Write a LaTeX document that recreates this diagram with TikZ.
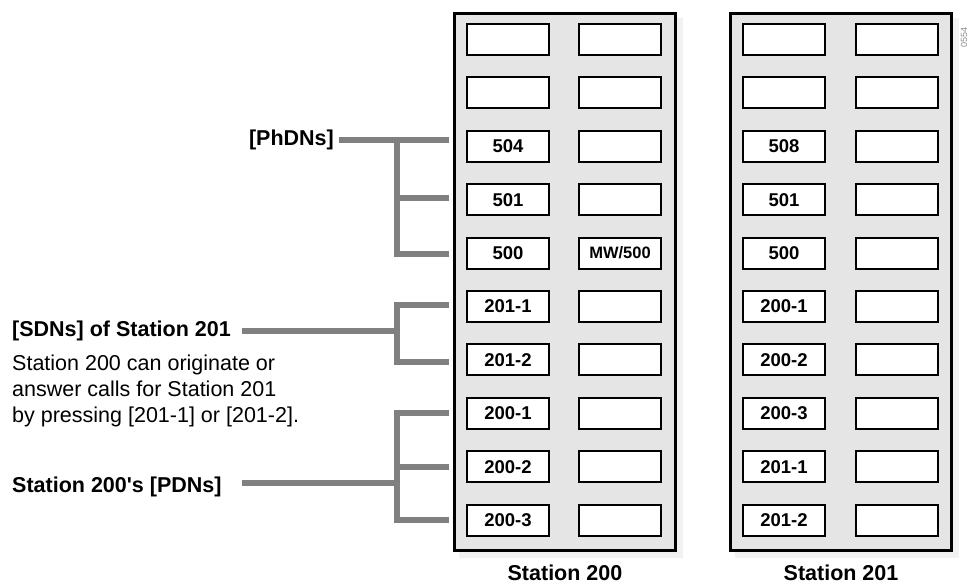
\documentclass[tikz,border=0pt]{standalone}
\usepackage{fontspec}
\setmainfont{Liberation Sans}
\newcommand\lblsize{\fontsize{21.5}{25.7}\selectfont}
\newcommand\keysize{\fontsize{18.5}{20}\selectfont}
\newcommand\mwsize{\fontsize{16.5}{18}\selectfont}
\tikzset{
  padkey/.style={draw,line width=2pt,fill=white,minimum width=82pt,minimum height=31pt,inner sep=0pt,font=\keysize\bfseries},
  stationframe/.style={draw,line width=3pt,fill=black!10,minimum width=221pt,minimum height=537pt,inner sep=0pt},
  frameshadow/.style={fill=black!5,minimum width=224pt,minimum height=540pt,inner sep=0pt},
  bracket/.style={line width=6pt,draw=black!50},
  lbl/.style={inner sep=0pt,font=\lblsize\bfseries},
}
\begin{document}
\begin{tikzpicture}[x=1pt,y=-1pt]
\useasboundingbox (0,0) rectangle (971,584);
% the two stations
\node[frameshadow] (sh200) at (571,288) {};
\node[stationframe] (st200) at (565,282) {};
\node[frameshadow] (sh201) at (847,288) {};
\node[stationframe] (st201) at (841,282) {};
\foreach \r/\a/\b/\c in {1/{}/{}/{},2/{}/{}/{},3/504/{}/508,4/501/{}/501,
    5/500/{\mwsize MW/500}/500,6/201-1/{}/200-1,7/201-2/{}/200-2,
    8/200-1/{}/200-3,9/200-2/{}/201-1,10/200-3/{}/201-2}{
  \node[padkey] (k200l\r) at (508,{39.5+(\r-1)*53.4}) {\a};
  \node[padkey] (k200r\r) at (620,{39.5+(\r-1)*53.4}) {\b};
  \node[padkey] (k201l\r) at (784,{39.5+(\r-1)*53.4}) {\c};
  \node[padkey] (k201r\r) at (896.5,{39.5+(\r-1)*53.4}) {};
}
\node[lbl,anchor=base] (lbl200) at (565,580) {Station 200};
\node[lbl,anchor=base] (lbl201) at (841,580) {Station 201};
\node[font=\fontsize{9}{9}\selectfont,text=black!45,rotate=90,inner sep=0pt] (fignum) at (964,37) {0554};
% labels on the left
\node[lbl,anchor=base east] (phdn) at (334,145) {[PhDNs]};
\node[lbl,anchor=base west] (sdn) at (12,336) {[SDNs] of Station 201};
\node[inner sep=0pt,anchor=north west,align=left,font=\lblsize] (sdnote) at (12,355) {Station 200 can originate or\\answer calls for Station 201\\by pressing [201-1] or [201-2].};
\node[lbl,anchor=base west] (pdn) at (12,492) {Station 200\textquotesingle s [PDNs]};
% brackets
\coordinate (ph1) at (449,140);
\coordinate (ph2) at (449,198);
\coordinate (ph3) at (449,254);
\draw[bracket] ([xshift=5pt]phdn.east |- ph1) -- (ph1);
\draw[bracket] (ph1) ++(-52,0) |- (ph3);
\draw[bracket] (ph2) -- ++(-52,0);
\coordinate (sd1) at (449,305);
\coordinate (sd2) at (449,362);
\coordinate (sdj) at (397,331);
\draw[bracket] (sd1) -- ++(-52,0) |- (sd2);
\draw[bracket] ([xshift=11pt]sdn.east |- sdj) -- (sdj);
\coordinate (pd1) at (449,413);
\coordinate (pd2) at (449,467);
\coordinate (pd3) at (449,520);
\coordinate (pdj) at (397,483);
\draw[bracket] (pd1) -- ++(-52,0) |- (pd3);
\draw[bracket] (pd2) -- ++(-52,0);
\draw[bracket] ([xshift=20pt]pdn.east |- pdj) -- (pdj);
\end{tikzpicture}
\end{document}
